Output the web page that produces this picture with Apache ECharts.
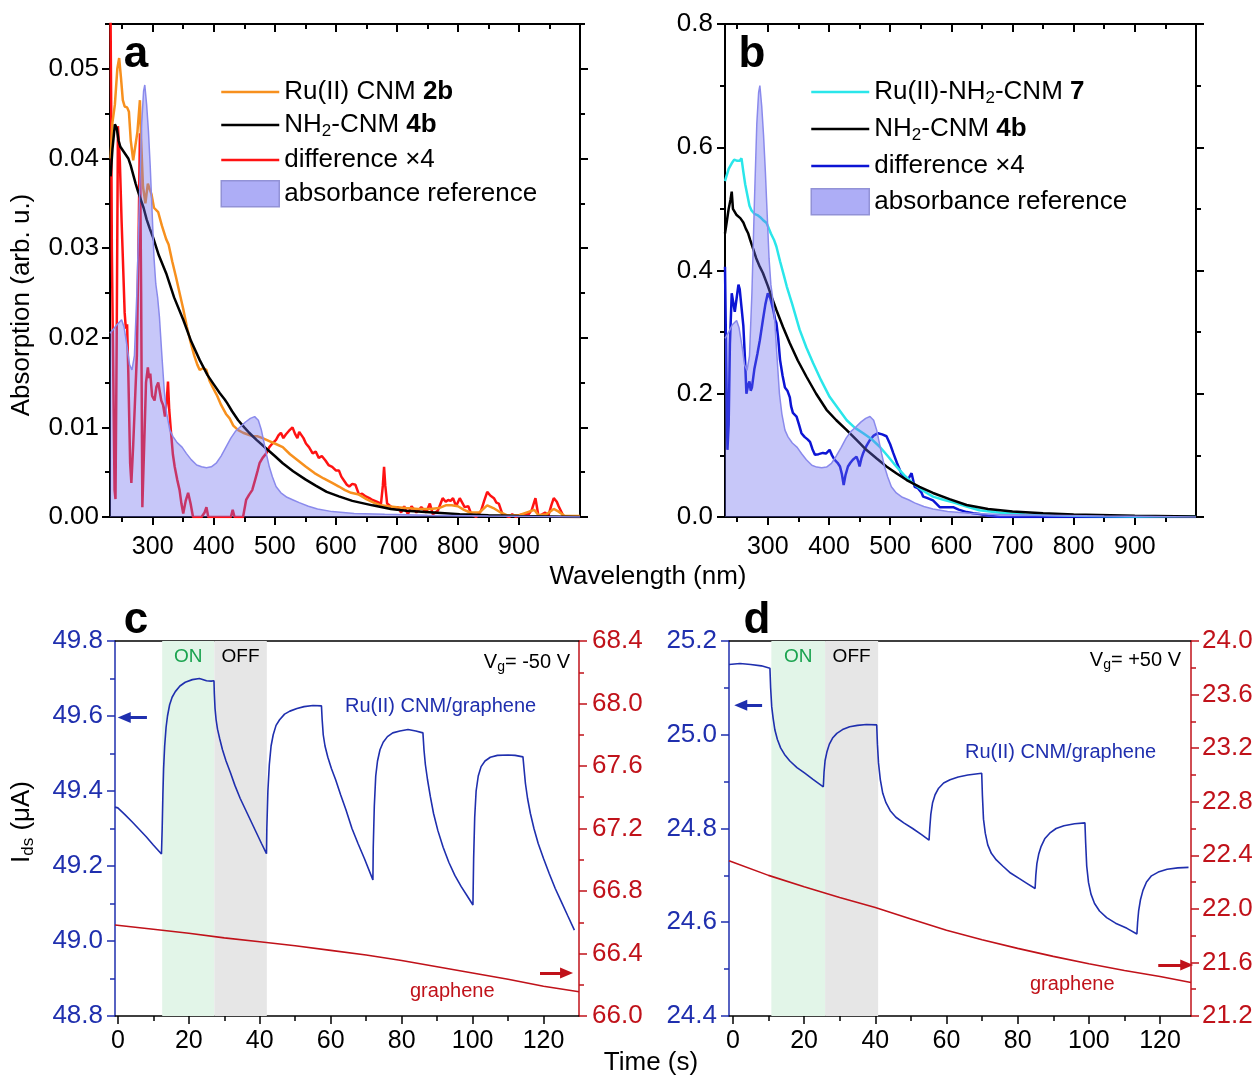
<!DOCTYPE html>
<html><head><meta charset="utf-8">
<script src="https://cdn.jsdelivr.net/npm/echarts@6/dist/echarts.min.js"></script>
<style>html,body{margin:0;padding:0;background:#fff}#chart{width:1258px;height:1077px}</style>
</head><body><div id="chart"></div>
<script>
// ---------------- DATA ----------------
// Panel a (wavelength nm, absorption)
const aRu = [[231,0.040],[234,0.044],[238,0.046],[242,0.050],[245,0.0512],[248,0.049],[251,0.0465],[254,0.0458],[258,0.0457],[261,0.0452],[264,0.042],[268,0.0398],[271,0.040],[275,0.043],[279,0.0465],[281,0.042],[284,0.0369],[288,0.035],[292,0.0372],[295,0.0373],[298,0.036],[302,0.0345],[309,0.034],[315,0.0325],[322,0.031],[326,0.0304],[332,0.0285],[338,0.0268],[344,0.025],[350,0.0232],[356,0.0212],[362,0.0195],[368,0.018],[373,0.017],[377,0.0164],[382,0.0166],[388,0.0164],[393,0.0152],[398,0.0145],[405,0.0136],[412,0.0125],[420,0.0115],[426,0.011],[432,0.0102],[440,0.0097],[448,0.0094],[456,0.0092],[464,0.009],[472,0.009],[480,0.0088],[490,0.0085],[500,0.0082],[513,0.0078],[525,0.007],[538,0.0063],[551,0.0056],[565,0.0049],[580,0.0043],[594,0.0038],[605,0.0034],[615,0.003],[625,0.0027],[638,0.0025],[650,0.002],[662,0.0016],[674,0.0013],[686,0.0012],[700,0.0011],[715,0.001],[735,0.0009],[755,0.0009],[769,0.001],[780,0.0013],[790,0.0013],[800,0.0012],[810,0.0008],[820,0.0005],[835,0.0005],[848,0.0013],[858,0.0010],[870,0.0005],[880,0.0002],[900,0.0002],[925,0.0008],[932,0.0002],[945,0.0003],[957,0.0009],[965,0.0006],[975,0.0001],[1000,0.0001]];
const aNH2 = [[231,0.038],[234,0.041],[238,0.0438],[241,0.0434],[244,0.042],[247,0.0413],[250,0.041],[255,0.0405],[260,0.040],[264,0.0392],[268,0.0382],[272,0.0372],[276,0.0363],[280,0.0355],[285,0.0345],[290,0.0332],[295,0.0322],[300,0.0313],[310,0.0292],[322,0.0272],[335,0.0245],[350,0.022],[363,0.0196],[377,0.0175],[390,0.0158],[400,0.0148],[410,0.0138],[418,0.0131],[422,0.0127],[430,0.0118],[440,0.0108],[450,0.0100],[458,0.0094],[470,0.0086],[485,0.0077],[500,0.0068],[513,0.006],[530,0.0051],[550,0.0042],[567,0.0035],[585,0.0028],[605,0.0023],[627,0.0018],[660,0.0013],[690,0.0009],[715,0.0007],[760,0.0005],[803,0.0003],[850,0.0002],[900,0.0001],[1000,0.0]];
const aDiff = [[230.5,0.060],[232,0.045],[233,0.030],[235,0.018],[237.5,0.003],[239,0.002],[241,0.020],[243,0.0436],[246,0.040],[249,0.033],[251,0.029],[254,0.0228],[256,0.021],[258,0.0215],[260,0.016],[263,0.006],[265,0.0038],[268,0.008],[271,0.013],[274,0.018],[277,0.032],[279,0.0428],[281,0.025],[283,0.0011],[286,0.008],[289,0.015],[292,0.0167],[294,0.0155],[296,0.016],[299,0.0135],[303,0.013],[306,0.0145],[309,0.015],[312,0.0138],[314,0.013],[317,0.0125],[320,0.0112],[323,0.013],[325,0.0151],[327,0.012],[330,0.0094],[333,0.007],[336,0.0056],[340,0.0042],[344,0.003],[347,0.0015],[350,0.0004],[354,0.0018],[358,0.0027],[362,0.0015],[366,0.0],[380,0.0],[385,0.0005],[388,0.0011],[391,0.0],[428,0.0],[431,0.0008],[434,0.0],[448,0.0],[453,0.0019],[458,0.0025],[463,0.003],[468,0.0042],[472,0.0052],[475,0.006],[480,0.0066],[486,0.0071],[491,0.0078],[496,0.0082],[502,0.0086],[506,0.0091],[510,0.0094],[514,0.0088],[518,0.0092],[523,0.0096],[529,0.0100],[533,0.0093],[537,0.0088],[540,0.0095],[543,0.0097],[547,0.0088],[551,0.0082],[556,0.0078],[562,0.0071],[567,0.0073],[572,0.0066],[577,0.0068],[583,0.0063],[588,0.0058],[594,0.0056],[600,0.0052],[605,0.0052],[609,0.0045],[613,0.0041],[618,0.0036],[622,0.0034],[627,0.0037],[632,0.0036],[638,0.0025],[643,0.0026],[649,0.0023],[655,0.0021],[660,0.0019],[667,0.0017],[674,0.0015],[677,0.0035],[679,0.0056],[681,0.0035],[684,0.0015],[693,0.001],[702,0.0011],[707,0.0005],[712,0.0012],[718,0.0003],[724,0.0012],[732,0.0005],[740,0.0011],[748,0.0005],[754,0.0015],[759,0.0003],[767,0.0007],[775,0.0021],[780,0.0017],[784,0.0019],[788,0.0018],[792,0.0021],[797,0.0012],[803,0.0021],[807,0.0016],[811,0.0011],[817,0.0012],[822,0.0003],[830,0.0],[838,0.0007],[843,0.0018],[848,0.0028],[853,0.0024],[859,0.0021],[863,0.0016],[867,0.0015],[873,0.0003],[884,0.0],[889,0.0003],[895,0.0],[905,0.0003],[916,0.0003],[921,0.0008],[927,0.0021],[932,0.0001],[938,0.0003],[943,0.0005],[948,0.0001],[953,0.0013],[957,0.0021],[962,0.0017],[965,0.0012],[970,0.0005],[973,0.0],[1000,0.0]];
const aRef = [[230,0.0205],[236,0.021],[242,0.0215],[249,0.022],[253,0.0212],[258,0.019],[262,0.017],[266,0.0164],[270,0.018],[274,0.025],[278,0.035],[282,0.044],[285,0.0475],[287,0.0482],[290,0.046],[293,0.043],[296,0.039],[299,0.034],[302,0.029],[305,0.026],[308,0.0245],[311,0.0223],[315,0.018],[319,0.014],[323,0.0115],[328,0.0097],[333,0.009],[340,0.0083],[348,0.0078],[355,0.0071],[363,0.0064],[372,0.0058],[380,0.0056],[388,0.0055],[396,0.0056],[404,0.006],[412,0.0068],[420,0.0078],[428,0.0088],[436,0.0096],[444,0.0101],[452,0.0106],[460,0.011],[467,0.0112],[473,0.0108],[478,0.0097],[482,0.0084],[486,0.0071],[491,0.0056],[496,0.0045],[502,0.0034],[510,0.0027],[520,0.0022],[530,0.0019],[540,0.0016],[555,0.0012],[570,0.0009],[594,0.0006],[630,0.0004],[680,0.0003],[750,0.0002],[850,0.0001],[1000,0.0]];
// Panel b
const bRu = [[230,0.545],[232,0.552],[236,0.565],[241,0.574],[245,0.58],[250,0.578],[254,0.578],[257,0.582],[260,0.56],[263,0.54],[267,0.52],[270,0.505],[273,0.498],[278,0.492],[283,0.49],[287,0.487],[292,0.482],[298,0.477],[305,0.46],[310,0.45],[314,0.439],[320,0.415],[326,0.393],[331,0.374],[340,0.345],[352,0.304],[363,0.275],[374,0.25],[387,0.222],[401,0.195],[415,0.176],[429,0.157],[442,0.145],[456,0.136],[470,0.126],[483,0.114],[496,0.099],[510,0.082],[523,0.068],[537,0.055],[553,0.043],[570,0.033],[587,0.028],[603,0.024],[625,0.017],[646,0.011],[680,0.007],[720,0.004],[800,0.002],[900,0.001],[1000,0.001]];
const bNH2 = [[230,0.46],[233,0.48],[236,0.50],[239,0.515],[241,0.528],[243,0.50],[246,0.497],[249,0.49],[251,0.493],[255,0.485],[260,0.478],[264,0.468],[268,0.46],[271,0.45],[276,0.435],[281,0.42],[286,0.408],[292,0.396],[300,0.375],[307,0.355],[314,0.336],[325,0.308],[336,0.282],[349,0.254],[363,0.228],[379,0.2],[396,0.174],[412,0.157],[429,0.141],[445,0.125],[461,0.109],[478,0.095],[494,0.082],[510,0.071],[527,0.06],[548,0.049],[570,0.039],[597,0.029],[625,0.0195],[660,0.013],[700,0.009],[750,0.006],[800,0.004],[900,0.002],[1000,0.001]];
const bDiff = [[230,0.406],[232,0.25],[234,0.109],[236,0.15],[238,0.28],[241,0.363],[243,0.36],[246,0.333],[249,0.355],[252,0.377],[254,0.37],[257,0.34],[260,0.31],[263,0.25],[265,0.2],[268,0.215],[270,0.22],[272,0.205],[274,0.21],[278,0.24],[283,0.265],[287,0.287],[292,0.32],[296,0.345],[300,0.363],[304,0.355],[309,0.336],[312,0.32],[314,0.315],[317,0.29],[320,0.255],[324,0.23],[328,0.21],[332,0.205],[336,0.194],[338,0.18],[341,0.169],[344,0.17],[347,0.163],[351,0.15],[355,0.136],[360,0.13],[365,0.126],[369,0.122],[373,0.11],[377,0.101],[383,0.102],[390,0.104],[395,0.103],[401,0.109],[405,0.1],[409,0.093],[414,0.088],[418,0.082],[421,0.07],[424,0.052],[427,0.068],[431,0.082],[435,0.088],[439,0.093],[442,0.095],[445,0.098],[448,0.09],[450,0.082],[453,0.095],[456,0.104],[461,0.115],[467,0.125],[473,0.132],[480,0.136],[487,0.134],[494,0.131],[500,0.118],[505,0.104],[511,0.088],[518,0.071],[524,0.065],[529,0.06],[532,0.066],[535,0.071],[538,0.058],[540,0.049],[545,0.047],[548,0.046],[551,0.04],[554,0.033],[560,0.031],[570,0.027],[575,0.022],[581,0.016],[590,0.016],[603,0.016],[612,0.012],[625,0.008],[636,0.006],[646,0.005],[660,0.002],[680,0.0],[1000,0.0]];
const bRef = [[230,0.29],[236,0.30],[242,0.312],[249,0.319],[253,0.307],[258,0.276],[262,0.247],[266,0.238],[270,0.261],[274,0.363],[278,0.508],[282,0.638],[285,0.689],[287,0.70],[290,0.667],[293,0.62],[296,0.56],[299,0.49],[302,0.42],[305,0.377],[308,0.355],[311,0.323],[315,0.26],[319,0.20],[323,0.167],[328,0.141],[333,0.13],[340,0.12],[348,0.113],[355,0.103],[363,0.093],[372,0.084],[380,0.081],[388,0.08],[396,0.081],[404,0.087],[412,0.099],[420,0.113],[428,0.128],[436,0.139],[444,0.146],[452,0.154],[460,0.16],[467,0.163],[473,0.157],[478,0.141],[482,0.122],[486,0.103],[491,0.081],[496,0.065],[502,0.049],[510,0.039],[520,0.032],[530,0.028],[540,0.023],[555,0.017],[570,0.013],[594,0.009],[630,0.006],[680,0.004],[750,0.003],[850,0.0015],[1000,0.0]];
// Panel c (time s, Ids uA / graphene right axis)
const cRu = [[-0.8,49.357],[0,49.355],[2,49.337],[4,49.318],[6,49.298],[8,49.278],[10,49.256],[12.3,49.232],[12.5,49.30],[12.7,49.39],[12.9,49.46],[13.2,49.52],[13.6,49.57],[14.0,49.60],[14.6,49.63],[15.3,49.65],[16.2,49.665],[17.5,49.68],[19,49.69],[21,49.697],[23,49.70],[25,49.694],[26.3,49.693],[27.1,49.694],[27.2,49.66],[27.4,49.62],[27.7,49.59],[28.1,49.565],[28.7,49.54],[29.5,49.51],[30.5,49.48],[31.7,49.45],[33,49.415],[34.5,49.38],[36,49.35],[37.5,49.32],[39,49.29],[40.5,49.26],[41.9,49.233],[42.0,49.30],[42.3,49.40],[42.7,49.47],[43.2,49.52],[43.8,49.55],[44.6,49.575],[45.6,49.59],[47,49.605],[48.5,49.613],[50.5,49.62],[52.5,49.625],[55,49.628],[57.4,49.627],[57.6,49.59],[57.9,49.55],[58.4,49.52],[59.2,49.49],[60.2,49.46],[61.4,49.43],[62.8,49.39],[64.3,49.35],[66,49.30],[67.7,49.26],[69.5,49.22],[71.9,49.163],[72.0,49.25],[72.3,49.36],[72.7,49.44],[73.2,49.48],[73.9,49.51],[74.8,49.53],[76,49.545],[77.5,49.555],[79.5,49.56],[81.8,49.564],[84,49.56],[86,49.555],[86.3,49.51],[86.7,49.47],[87.3,49.43],[88.1,49.385],[89,49.34],[90.2,49.295],[91.7,49.25],[93.3,49.21],[95,49.175],[96.8,49.145],[98.5,49.12],[100.1,49.096],[100.3,49.22],[100.6,49.33],[101,49.40],[101.6,49.44],[102.4,49.465],[103.5,49.48],[105,49.49],[107,49.495],[110,49.496],[112,49.495],[114.2,49.491],[114.5,49.46],[114.9,49.42],[115.5,49.38],[116.3,49.34],[117.3,49.30],[118.5,49.26],[120,49.22],[121.6,49.18],[123.3,49.14],[125,49.105],[126.8,49.068],[128.7,49.029]];
const cGraphene = [[-0.8,66.582],[10,66.555],[20,66.53],[30,66.50],[40,66.475],[50,66.45],[60,66.42],[70,66.39],[80,66.355],[90,66.315],[100,66.275],[110,66.235],[120,66.19],[130,66.155]];
// Panel d
const dRu = [[-1.1,25.150],[2,25.152],[5,25.150],[8,25.147],[10.4,25.142],[10.6,25.10],[10.9,25.06],[11.3,25.035],[11.8,25.01],[12.5,24.99],[13.4,24.972],[14.5,24.958],[16,24.944],[18,24.93],[20.2,24.918],[22.5,24.905],[25.4,24.889],[25.6,24.92],[25.9,24.945],[26.4,24.963],[27.1,24.98],[28,24.993],[29.2,25.003],[30.8,25.011],[32.8,25.017],[35,25.02],[37.5,25.022],[40.4,25.021],[40.6,24.98],[40.9,24.94],[41.4,24.905],[42.1,24.875],[43,24.855],[44.2,24.838],[45.8,24.824],[48,24.812],[50.5,24.80],[53,24.787],[55.1,24.775],[55.3,24.80],[55.6,24.83],[56.1,24.855],[56.8,24.872],[57.8,24.886],[59.2,24.897],[61,24.904],[63.3,24.91],[66,24.914],[69.9,24.918],[70.1,24.87],[70.4,24.82],[70.9,24.79],[71.6,24.765],[72.6,24.747],[74,24.733],[75.8,24.72],[78,24.705],[80.5,24.693],[82.8,24.682],[84.9,24.672],[85.1,24.70],[85.4,24.725],[85.9,24.745],[86.6,24.762],[87.6,24.778],[89,24.79],[90.8,24.80],[93,24.806],[96,24.81],[98.9,24.812],[99.1,24.77],[99.4,24.72],[99.9,24.685],[100.6,24.66],[101.6,24.64],[103,24.624],[105,24.61],[107.5,24.598],[110.7,24.587],[113.5,24.575],[113.7,24.60],[114,24.625],[114.5,24.648],[115.2,24.668],[116.2,24.686],[117.6,24.699],[119.5,24.707],[122,24.713],[125,24.716],[128,24.717]];
const dGraphene = [[-1.1,22.36],[10,22.25],[20,22.165],[30,22.085],[40,22.01],[50,21.925],[60,21.84],[70,21.77],[80,21.705],[90,21.645],[100,21.59],[110,21.54],[120,21.495],[128.7,21.45]];
// Illumination windows [start, end] (s)
const cOn = [12.5, 27.2], cOff = [27.2, 42.0];
const dOn = [10.8, 25.9], dOff = [25.9, 40.8];
// Tick values
const wlMajor = [300,400,500,600,700,800,900];
const wlMinor = [250,350,450,550,650,750,850,950];
const absAMajor = [0,0.01,0.02,0.03,0.04,0.05];
const absAMinor = [0.005,0.015,0.025,0.035,0.045,0.055];
const timeMajor = [0,20,40,60,80,100,120];
const timeMinor = [10,30,50,70,90,110];

// ---------------- STYLE ----------------
const FONT = '"Liberation Sans", Arial, Helvetica, sans-serif';
const TFX = 25, TFY = 26;
const COL = {orange:'#f7901e', black:'#000000', red:'#ff1212', cyan:'#2ae6ea', dblue:'#0c14d4',
  refLine:'#8a8aec', refFill:'rgba(110,110,240,0.55)', refLegend:'#adadf6', refBorder:'#9292d6',
  iBlue:'#1f2fae', iRed:'#c0121a', onFill:'#e2f5e8', offFill:'#e6e6e6', onText:'#1aa34f'};

const blk = {color:'#000', width:2};
function xBox(g, min, max) {
  const base = {type:'value', gridIndex:g, min:min, max:max, splitLine:{show:false}};
  return [
    Object.assign({}, base, {position:'bottom', axisLine:{show:true,onZero:false,lineStyle:blk},
      axisTick:{show:true,inside:false,length:8,lineStyle:blk,customValues:wlMajor},
      axisLabel:{show:true,customValues:wlMajor,fontSize:TFX,color:'#000',fontFamily:FONT,margin:18}}),
    Object.assign({}, base, {position:'bottom', axisLine:{show:false,onZero:false},
      axisTick:{show:true,inside:false,length:5,lineStyle:blk,customValues:wlMinor}, axisLabel:{show:false}}),
    Object.assign({}, base, {position:'top', axisLine:{show:true,onZero:false,lineStyle:blk},
      axisTick:{show:true,inside:true,length:8,lineStyle:blk,customValues:wlMajor}, axisLabel:{show:false}}),
    Object.assign({}, base, {position:'top', axisLine:{show:false,onZero:false},
      axisTick:{show:true,inside:true,length:5,lineStyle:blk,customValues:wlMinor}, axisLabel:{show:false}})
  ];
}
const xAxes = [].concat(xBox(0,230,1000), xBox(1,230,1000));
function timeX(g, min, max) {
  const base = {type:'value', gridIndex:g, min:min, max:max, splitLine:{show:false}};
  const ln = {color:'#000', width:1.5};
  return [
    Object.assign({}, base, {position:'bottom', axisLine:{show:true,onZero:false,lineStyle:ln},
      axisTick:{show:true,inside:false,length:8,lineStyle:ln,customValues:timeMajor},
      axisLabel:{show:true,customValues:timeMajor,fontSize:TFX,color:'#000',fontFamily:FONT,margin:13}}),
    Object.assign({}, base, {position:'bottom', axisLine:{show:false,onZero:false},
      axisTick:{show:true,inside:false,length:5,lineStyle:ln,customValues:timeMinor}, axisLabel:{show:false}}),
    Object.assign({}, base, {position:'top', axisLine:{show:true,onZero:false,lineStyle:ln},
      axisTick:{show:false}, axisLabel:{show:false}})
  ];
}
xAxes.push.apply(xAxes, timeX(2, -0.8, 130));   // 8,9,10
xAxes.push.apply(xAxes, timeX(3, -1.1, 128.7)); // 11,12,13

const yAxes = [];
// a: 0..3
(function(){
  const base = {type:'value', gridIndex:0, min:0, max:0.055, splitLine:{show:false}};
  yAxes.push(Object.assign({}, base, {position:'left', axisLine:{show:true,onZero:false,lineStyle:blk},
    axisTick:{show:true,inside:false,length:8,lineStyle:blk,customValues:absAMajor},
    axisLabel:{show:true,customValues:absAMajor,formatter:v=>v.toFixed(2),fontSize:TFY,color:'#000',fontFamily:FONT,margin:11}}));
  yAxes.push(Object.assign({}, base, {position:'left', axisLine:{show:false,onZero:false},
    axisTick:{show:true,inside:false,length:5,lineStyle:blk,customValues:absAMinor}, axisLabel:{show:false}}));
  yAxes.push(Object.assign({}, base, {position:'right', axisLine:{show:true,onZero:false,lineStyle:blk},
    axisTick:{show:true,inside:false,length:8,lineStyle:blk,customValues:absAMajor}, axisLabel:{show:false}}));
  yAxes.push(Object.assign({}, base, {position:'right', axisLine:{show:false,onZero:false},
    axisTick:{show:true,inside:false,length:5,lineStyle:blk,customValues:absAMinor}, axisLabel:{show:false}}));
})();
// b: 4..5
(function(){
  const base = {type:'value', gridIndex:1, min:0, max:0.8, interval:0.2, splitLine:{show:false},
    minorTick:{show:true,splitNumber:2,length:5,lineStyle:blk}, minorSplitLine:{show:false}};
  yAxes.push(Object.assign({}, base, {position:'left', axisLine:{show:true,onZero:false,lineStyle:blk},
    axisTick:{show:true,inside:false,length:8,lineStyle:blk},
    axisLabel:{show:true,formatter:v=>v.toFixed(1),fontSize:TFY,color:'#000',fontFamily:FONT,margin:12}}));
  yAxes.push(Object.assign({}, base, {position:'right', axisLine:{show:true,onZero:false,lineStyle:blk},
    axisTick:{show:true,inside:false,length:8,lineStyle:blk}, axisLabel:{show:false}}));
})();
function currentY(g, pos, min, max, interval, color, margin) {
  const ln = {color:color, width:1.5};
  return {type:'value', gridIndex:g, position:pos, min:min, max:max, interval:interval, splitLine:{show:false},
    axisLine:{show:true,onZero:false,lineStyle:ln},
    axisTick:{show:true,inside:false,length:8,lineStyle:ln},
    minorTick:{show:true,splitNumber:2,length:5,lineStyle:ln}, minorSplitLine:{show:false},
    axisLabel:{show:true,formatter:v=>v.toFixed(1),fontSize:TFY,color:color,fontFamily:FONT,margin:margin}};
}
yAxes.push(currentY(2,'left',48.8,49.8,0.2,COL.iBlue,12));   // 6
yAxes.push(currentY(2,'right',66.0,68.4,0.4,COL.iRed,13));   // 7
yAxes.push(currentY(3,'left',24.4,25.2,0.2,COL.iBlue,12));   // 8
yAxes.push(currentY(3,'right',21.2,24.0,0.4,COL.iRed,11));   // 9

function ln(name, data, xi, yi, color, width, z) {
  return {name:name, type:'line', data:data, xAxisIndex:xi, yAxisIndex:yi, color:color, symbol:'none', showSymbol:false,
    lineStyle:{color:color, width:width}, z:z||3, silent:true, clip:true};
}
function refSeries(name, data, xi, yi) {
  return {name:name, type:'line', data:data, xAxisIndex:xi, yAxisIndex:yi, color:COL.refLegend, symbol:'none', showSymbol:false,
    lineStyle:{color:COL.refLine, width:1.5}, areaStyle:{color:COL.refFill}, z:4, silent:true};
}
function windows(on, off) {
  return {silent:true, z:1, label:{show:true, position:'insideTop', distance:6, fontSize:19, fontFamily:FONT},
    data:[
      [{name:'ON', xAxis:on[0], itemStyle:{color:COL.onFill}, label:{color:COL.onText}}, {xAxis:on[1]}],
      [{name:'OFF', xAxis:off[0], itemStyle:{color:COL.offFill}, label:{color:'#000'}}, {xAxis:off[1]}]
    ]};
}
function arrow(x1, x2, y, color) {
  return {silent:true, symbol:['none','triangle'], symbolSize:[11,13], lineStyle:{color:color, width:3, type:'solid'},
    label:{show:false}, emphasis:{disabled:true}, animation:false,
    data:[[{coord:[x1,y]},{coord:[x2,y]}]]};
}

const cRuS = ln('cRu', cRu, 8, 6, COL.iBlue, 1.6, 3);
cRuS.markArea = windows(cOn, cOff);
cRuS.markLine = arrow(8.2, 1.8, 49.596, COL.iBlue);
const cGrS = ln('cGr', cGraphene, 8, 7, COL.iRed, 1.6, 3);
cGrS.markLine = arrow(119, 126.5, 66.275, COL.iRed);
const dRuS = ln('dRu', dRu, 11, 8, COL.iBlue, 1.6, 3);
dRuS.markArea = windows(dOn, dOff);
dRuS.markLine = arrow(8.2, 2.2, 25.063, COL.iBlue);
const dGrS = ln('dGr', dGraphene, 11, 9, COL.iRed, 1.6, 3);
dGrS.markLine = arrow(119.5, 127.5, 21.58, COL.iRed);

const series = [
  ln('aDiff', aDiff, 0, 0, COL.red, 2.5),
  ln('aRu', aRu, 0, 0, COL.orange, 2.5),
  ln('aNH2', aNH2, 0, 0, COL.black, 2.5),
  refSeries('aRef', aRef, 0, 0),
  ln('bDiff', bDiff, 4, 4, COL.dblue, 2.5),
  ln('bRu', bRu, 4, 4, COL.cyan, 2.5),
  ln('bNH2', bNH2, 4, 4, COL.black, 2.5),
  refSeries('bRef', bRef, 4, 4),
  cRuS, cGrS, dRuS, dGrS
];

const LEG = {
  aRu:'{n|Ru(II) CNM }{b|2b}', aNH2:'{n|NH}{s|2}{n|-CNM }{b|4b}', aDiff:'{n|difference ×4}', aRef:'{n|absorbance reference}',
  bRu:'{n|Ru(II)-NH}{s|2}{n|-CNM }{b|7}', bNH2:'{n|NH}{s|2}{n|-CNM }{b|4b}', bDiff:'{n|difference ×4}', bRef:'{n|absorbance reference}'
};
const RICH = {
  n:{fontSize:26, lineHeight:30, fontFamily:FONT, color:'#000'},
  b:{fontSize:26, lineHeight:30, fontWeight:'bold', fontFamily:FONT, color:'#000'},
  s:{fontSize:17, lineHeight:16, verticalAlign:'bottom', fontFamily:FONT, color:'#000'}
};
function lineItem(name, color) { return {name:name, icon:'line', itemStyle:{color:color, borderColor:color, borderWidth:2.5}}; }
function rectItem(name) { return {name:name, icon:'rect', itemStyle:{color:COL.refLegend, borderColor:COL.refBorder, borderWidth:1.5}}; }
function legendAt(left, top, gap, data) {
  return {left:left, top:top, orient:'vertical', padding:0, itemWidth:58, itemHeight:26, itemGap:gap, selectedMode:false,
    data:data, formatter:n=>LEG[n], textStyle:{fontSize:26, fontFamily:FONT, color:'#000', rich:RICH}};
}

const SUBRICH = {
  n:{fontSize:20, lineHeight:24, fontFamily:FONT},
  s:{fontSize:14, lineHeight:12, verticalAlign:'bottom', fontFamily:FONT}
};
function txt(x, y, text, opts) {
  return Object.assign({type:'text', x:x, y:y, silent:true, style:Object.assign({text:text, fontFamily:FONT, fill:'#000', align:'center', verticalAlign:'middle'}, opts.style||{})}, opts.el||{});
}
const graphic = [
  txt(136, 55, 'a', {style:{fontSize:44, fontWeight:'bold'}}),
  txt(752, 55, 'b', {style:{fontSize:44, fontWeight:'bold'}}),
  txt(136, 621, 'c', {style:{fontSize:44, fontWeight:'bold'}}),
  txt(757, 621, 'd', {style:{fontSize:44, fontWeight:'bold'}}),
  txt(648, 577, 'Wavelength (nm)', {style:{fontSize:26}}),
  txt(651, 1063, 'Time (s)', {style:{fontSize:26}}),
  txt(22, 305, 'Absorption (arb. u.)', {style:{fontSize:26}, el:{rotation:Math.PI/2}}),
  txt(22, 822, '{n|I}{s|ds}{n| (μA)}', {style:{rich:{n:{fontSize:26,lineHeight:30,fontFamily:FONT}, s:{fontSize:17,lineHeight:16,verticalAlign:'bottom',fontFamily:FONT}}}, el:{rotation:Math.PI/2}}),
  txt(345, 706, 'Ru(II) CNM/graphene', {style:{fontSize:20, fill:COL.iBlue, align:'left'}}),
  txt(965, 752, 'Ru(II) CNM/graphene', {style:{fontSize:20, fill:COL.iBlue, align:'left'}}),
  txt(410, 991, 'graphene', {style:{fontSize:20, fill:COL.iRed, align:'left'}}),
  txt(1030, 984, 'graphene', {style:{fontSize:20, fill:COL.iRed, align:'left'}}),
  txt(570, 662, '{n|V}{s|g}{n|= -50 V}', {style:{align:'right', rich:SUBRICH}}),
  txt(1181, 660, '{n|V}{s|g}{n|= +50 V}', {style:{align:'right', rich:SUBRICH}})
];

const option = {
  animation:false,
  backgroundColor:'#ffffff',
  grid:[
    {left:110, top:24, width:470, height:493, outerBoundsMode:'none', containLabel:false},
    {left:725, top:24, width:471, height:493, outerBoundsMode:'none', containLabel:false},
    {left:115, top:641, width:464, height:375, outerBoundsMode:'none', containLabel:false},
    {left:729, top:641, width:462, height:375, outerBoundsMode:'none', containLabel:false}
  ],
  xAxis:xAxes, yAxis:yAxes, series:series, graphic:graphic,
  legend:[
    legendAt(220, 79, 7, [lineItem('aRu',COL.orange), lineItem('aNH2',COL.black), lineItem('aDiff',COL.red), rectItem('aRef')]),
    legendAt(810, 79, 9, [lineItem('bRu',COL.cyan), lineItem('bNH2',COL.black), lineItem('bDiff',COL.dblue), rectItem('bRef')])
  ]
};
const chart = echarts.init(document.getElementById('chart'), null, {renderer:'canvas'});
chart.setOption(option);
</script></body></html>
